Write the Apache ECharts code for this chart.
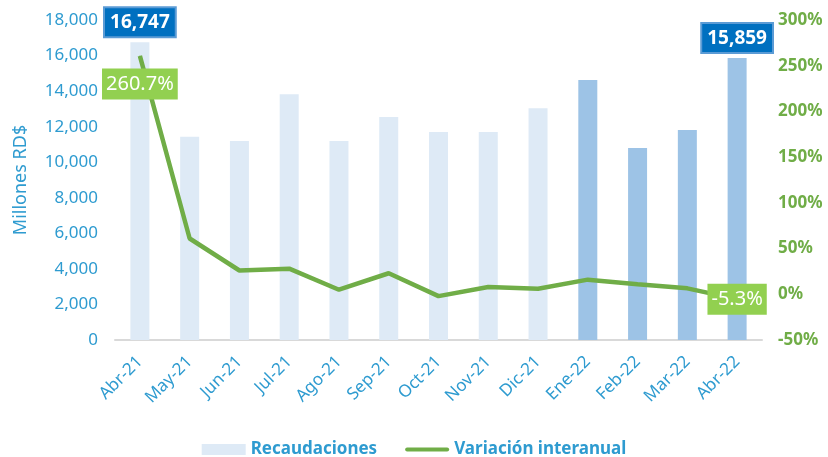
<!DOCTYPE html>
<html>
<head>
<meta charset="utf-8">
<script src="https://cdn.jsdelivr.net/npm/echarts@6/dist/echarts.min.js"></script>
<style>
  html, body { margin: 0; padding: 0; background: #fff; }
  #chart { width: 828px; height: 457px; }
</style>
</head>
<body>
<div id="chart"></div>
<script>
// 月份
const months = ['Abr-21', 'May-21', 'Jun-21', 'Jul-21', 'Ago-21', 'Sep-21', 'Oct-21',
  'Nov-21', 'Dic-21', 'Ene-22', 'Feb-22', 'Mar-22', 'Abr-22']
// 收入（百万 RD$）
const recaudaciones = [16747, 11430, 11190, 13830, 11190, 12540, 11700, 11700, 13030, 14620, 10800, 11810, 15859]
// 同比变化（%）
const variacion = [260.7, 61, 26, 28, 5, 23, -2, 8, 6, 16, 11, 6.5, -5.3]
// 要显示标签的位置
const labeledIdx = [0, 12]

const blueText = '#2E9BD0'
const greenText = '#70AD47'
const font = 'Noto Sans'

const chart = echarts.init(document.getElementById('chart'))

const barData = recaudaciones.map((v, i) => ({
  value: v,
  itemStyle: { color: i >= 9 ? '#9DC3E6' : '#DEEAF6' },
  label: {
    show: labeledIdx.includes(i),
    position: 'top',
    distance: 6,
    formatter: p => p.value.toLocaleString('en-US'),
    backgroundColor: '#0070C0',
    borderColor: '#5B9BD5',
    borderWidth: 2,
    padding: [5, 5, 4, 5],
    color: '#fff',
    fontWeight: 'bold',
    fontSize: 19,
    fontFamily: font,
  },
}))

const lineData = variacion.map((v, i) => ({
  value: v,
  label: {
    show: labeledIdx.includes(i),
    position: i === 0 ? 'bottom' : 'inside',
    distance: 12,
    formatter: p => p.value + '%',
    backgroundColor: '#92D050',
    padding: [6, 4, 5, 4],
    color: '#fff',
    fontSize: 20,
    fontFamily: font,
  },
}))

const option = {
  animation: false,
  textStyle: { fontFamily: font },
  grid: { left: 115, right: 66, top: 20, bottom: 117 },
  legend: {
    top: 436,
    left: 'center',
    itemWidth: 44,
    itemHeight: 11,
    itemGap: 28,
    textStyle: { color: blueText, fontSize: 17, fontWeight: 'bold', fontFamily: font },
    data: [
      { name: 'Recaudaciones', icon: 'rect', itemStyle: { color: '#DEEAF6' } },
      {
        name: 'Variación interanual',
        icon: 'path://M0,0 M0,11 M2,3.5 L42,3.5 Q44,3.5 44,5.5 Q44,7.5 42,7.5 L2,7.5 Q0,7.5 0,5.5 Q0,3.5 2,3.5 Z',
        itemStyle: { color: greenText },
      },
    ],
  },
  xAxis: {
    type: 'category',
    data: months,
    axisTick: { show: false },
    axisLine: { lineStyle: { color: '#D9D9D9', width: 2 } },
    axisLabel: { rotate: 45, color: blueText, fontSize: 17, margin: 19 },
  },
  yAxis: [
    {
      type: 'value',
      min: 0,
      max: 18000,
      interval: 2000,
      name: 'Millones RD$',
      nameLocation: 'middle',
      nameGap: 85,
      nameTextStyle: { color: blueText, fontSize: 18 },
      splitLine: { show: false },
      axisLine: { show: false },
      axisTick: { show: false },
      axisLabel: {
        color: blueText,
        fontSize: 17,
        margin: 17,
        formatter: v => v.toLocaleString('en-US'),
      },
    },
    {
      type: 'value',
      min: -50,
      max: 300,
      interval: 50,
      position: 'right',
      splitLine: { show: false },
      axisLine: { show: false },
      axisTick: { show: false },
      axisLabel: {
        color: greenText,
        fontSize: 17,
        fontWeight: 'bold',
        margin: 16,
        formatter: '{value}%',
      },
    },
  ],
  series: [
    {
      name: 'Recaudaciones',
      type: 'bar',
      barWidth: 19,
      data: barData,
    },
    {
      name: 'Variación interanual',
      type: 'line',
      yAxisIndex: 1,
      symbol: 'circle',
      symbolSize: 1,
      z: 5,
      lineStyle: { color: greenText, width: 4.5 },
      itemStyle: { color: greenText },
      data: lineData,
    },
  ],
}

chart.setOption(option)
</script>
</body>
</html>
